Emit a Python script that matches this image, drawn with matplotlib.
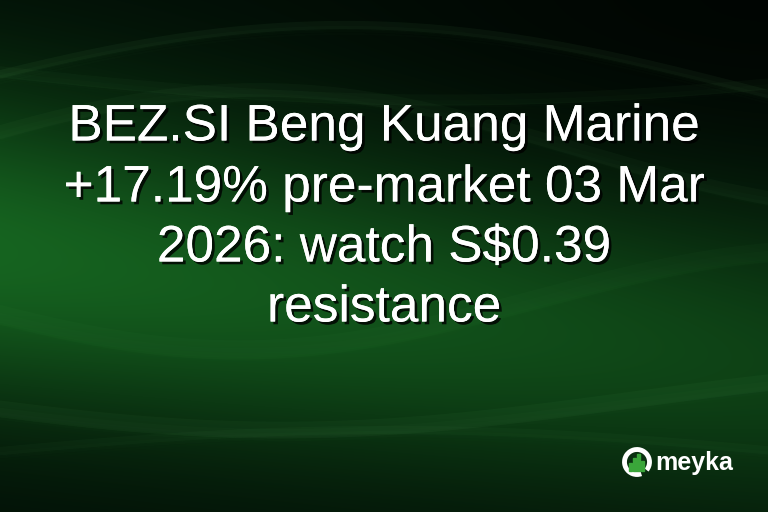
import numpy as np
import matplotlib
matplotlib.use("Agg")
import matplotlib.pyplot as plt
import matplotlib.patheffects as pe
from matplotlib.patches import Arc, Rectangle

W, H = 768, 512

# Titelzeilen
title_lines = [
    "BEZ.SI Beng Kuang Marine",
    "+17.19% pre-market 03 Mar",
    "2026: watch S$0.39",
    "resistance",
]
line_y = [127, 188, 248, 308]

# Logo-Balken (relative Höhen)
bar_heights = [0.45, 0.75, 1.0, 0.6]
brand = "meyka"

fig = plt.figure(figsize=(W / 100, H / 100), dpi=100)
ax = fig.add_axes([0, 0, 1, 1])
ax.set_xlim(0, W)
ax.set_ylim(H, 0)
ax.axis("off")

# Hintergrund: dunkles Grün mit hellerem diagonalen Band
yy, xx = np.mgrid[0:H, 0:W].astype(float)
center = 250 + 110 * (xx / W)
band = np.exp(-((yy - center) / 160) ** 2)
left = 1.0 - 0.4 * (xx / W)
t = np.clip(band * left, 0, 1)
dark = np.array([2, 14, 6]) / 255
bright = np.array([22, 100, 32]) / 255
img = dark + (bright - dark) * t[..., None]
# oben rechts noch dunkler
corner = np.exp(-(((xx - W) / 420) ** 2 + (yy / 160) ** 2))
img = img * (1 - 0.6 * corner[..., None])
ax.imshow(img, extent=(0, W, H, 0), zorder=0, interpolation="bilinear")

# Lichtschlieren (dezent)
xs = np.linspace(0, W, 400)
streaks = [
    (95, -70, 0.9, 0.05, 6),
    (150, -60, 1.2, 0.035, 10),
    (60, 40, 0.7, 0.03, 8),
    (400, 30, 1.1, 0.04, 12),
    (460, -30, 0.8, 0.03, 6),
    (300, 50, 1.3, 0.025, 14),
]
for y0, amp, freq, alpha, lw in streaks:
    ys = y0 + amp * np.sin(freq * np.pi * xs / W + 0.3)
    for k in range(4):
        ax.plot(xs, ys + k * 3, color="#7fdc7f", alpha=alpha / (k + 1),
                lw=lw / (k + 1), zorder=1, solid_capstyle="round")

# Titeltext mit Schatten
for txt, y in zip(title_lines, line_y):
    ax.text(W / 2, y, txt, ha="center", va="center", color="white",
            fontsize=37, family="Liberation Sans", zorder=5,
            path_effects=[pe.withSimplePatchShadow(offset=(2, -2),
                                                   shadow_rgbFace="black",
                                                   alpha=0.8),
                          pe.Normal()])

# Logo
cx, cy, r = 637, 462, 12.5
ax.add_patch(Arc((cx, cy), 2 * r, 2 * r, theta1=-290, theta2=40,
                 color="white", lw=3.5, zorder=6))
bw = 4.0
x0 = cx - 2 * bw
for i, h in enumerate(bar_heights):
    hh = h * 17
    ax.add_patch(Rectangle((x0 + i * bw, cy + 9 - hh), bw - 0.8, hh,
                           color="#3aa63a", zorder=6))
ax.text(655, 463, brand, ha="left", va="center", color="white",
        fontsize=18, fontweight="bold", family="Liberation Sans", zorder=6)

fig.savefig("out.png", dpi=100)
